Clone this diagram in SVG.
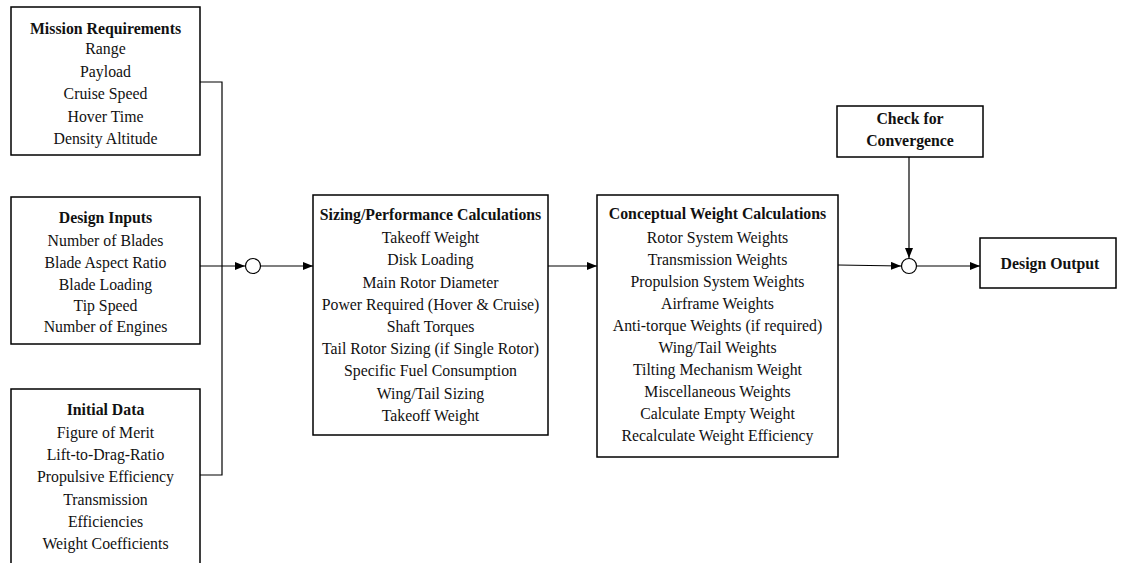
<svg xmlns="http://www.w3.org/2000/svg" width="1123" height="563" viewBox="0 0 1123 563">
  <style>
    .box { fill: #fff; stroke: #000; stroke-width: 1.5; }
    .wire { fill: none; stroke: #000; stroke-width: 1.2; }
    .junction { fill: #fff; stroke: #000; stroke-width: 1.2; }
    text { font-family: "Liberation Serif", "Times New Roman", serif; font-size: 15.8px; fill: #111; text-anchor: middle; }
    .title { font-weight: bold; }
  </style>
  <defs>
    <marker id="arrow" viewBox="0 0 10 8" refX="10" refY="4" markerWidth="10" markerHeight="8" markerUnits="userSpaceOnUse" orient="auto">
      <path d="M0,0 L10,4 L0,8 Z" fill="#000"/>
    </marker>
  </defs>

  <rect width="1123" height="563" fill="#fff"/>

  <!-- connectors -->
  <g id="connectors">
    <path class="wire" d="M200,82 H222 V475 H200"/>
    <path class="wire" d="M200,266 H245" marker-end="url(#arrow)"/>
    <path class="wire" d="M261,266 H313" marker-end="url(#arrow)"/>
    <path class="wire" d="M548,266 H597" marker-end="url(#arrow)"/>
    <path class="wire" d="M838,265 L901,266" marker-end="url(#arrow)"/>
    <path class="wire" d="M909,157 V258" marker-end="url(#arrow)"/>
    <path class="wire" d="M917,266 H980" marker-end="url(#arrow)"/>
    <circle class="junction" cx="253" cy="266" r="7.5"/>
    <circle class="junction" cx="909" cy="266" r="7.5"/>
  </g>

  <g id="mission-requirements">
    <rect class="box" x="11" y="7" width="189" height="148"/>
    <text class="title" x="105.5" y="34">Mission Requirements</text>
    <text x="105.5" y="54">Range</text>
    <text x="105.5" y="77">Payload</text>
    <text x="105.5" y="99">Cruise Speed</text>
    <text x="105.5" y="122">Hover Time</text>
    <text x="105.5" y="144">Density Altitude</text>
  </g>

  <g id="design-inputs">
    <rect class="box" x="11" y="197" width="189" height="147"/>
    <text class="title" x="105.5" y="223">Design Inputs</text>
    <text x="105.5" y="246">Number of Blades</text>
    <text x="105.5" y="268">Blade Aspect Ratio</text>
    <text x="105.5" y="290">Blade Loading</text>
    <text x="105.5" y="311">Tip Speed</text>
    <text x="105.5" y="332">Number of Engines</text>
  </g>

  <g id="initial-data">
    <path class="box" d="M11,566 V389 H200 V566"/>
    <text class="title" x="105.5" y="415">Initial Data</text>
    <text x="105.5" y="438">Figure of Merit</text>
    <text x="105.5" y="460">Lift-to-Drag-Ratio</text>
    <text x="105.5" y="482">Propulsive Efficiency</text>
    <text x="105.5" y="505">Transmission</text>
    <text x="105.5" y="527">Efficiencies</text>
    <text x="105.5" y="549">Weight Coefficients</text>
  </g>

  <g id="sizing-performance">
    <rect class="box" x="313" y="195" width="235" height="240"/>
    <text class="title" x="430.5" y="220">Sizing/Performance Calculations</text>
    <text x="430.5" y="243">Takeoff Weight</text>
    <text x="430.5" y="265">Disk Loading</text>
    <text x="430.5" y="288">Main Rotor Diameter</text>
    <text x="430.5" y="310">Power Required (Hover &amp; Cruise)</text>
    <text x="430.5" y="332">Shaft Torques</text>
    <text x="430.5" y="354">Tail Rotor Sizing (if Single Rotor)</text>
    <text x="430.5" y="376">Specific Fuel Consumption</text>
    <text x="430.5" y="399">Wing/Tail Sizing</text>
    <text x="430.5" y="421">Takeoff Weight</text>
  </g>

  <g id="conceptual-weight">
    <rect class="box" x="597" y="195" width="241" height="262"/>
    <text class="title" x="717.5" y="219">Conceptual Weight Calculations</text>
    <text x="717.5" y="243">Rotor System Weights</text>
    <text x="717.5" y="265">Transmission Weights</text>
    <text x="717.5" y="287">Propulsion System Weights</text>
    <text x="717.5" y="309">Airframe Weights</text>
    <text x="717.5" y="331">Anti-torque Weights (if required)</text>
    <text x="717.5" y="353">Wing/Tail Weights</text>
    <text x="717.5" y="375">Tilting Mechanism Weight</text>
    <text x="717.5" y="397">Miscellaneous Weights</text>
    <text x="717.5" y="419">Calculate Empty Weight</text>
    <text x="717.5" y="441">Recalculate Weight Efficiency</text>
  </g>

  <g id="check-convergence">
    <rect class="box" x="837" y="106" width="146" height="51"/>
    <text class="title" x="910" y="124">Check for</text>
    <text class="title" x="910" y="146">Convergence</text>
  </g>

  <g id="design-output">
    <rect class="box" x="980" y="238" width="136" height="50"/>
    <text class="title" x="1050" y="269">Design Output</text>
  </g>
</svg>
